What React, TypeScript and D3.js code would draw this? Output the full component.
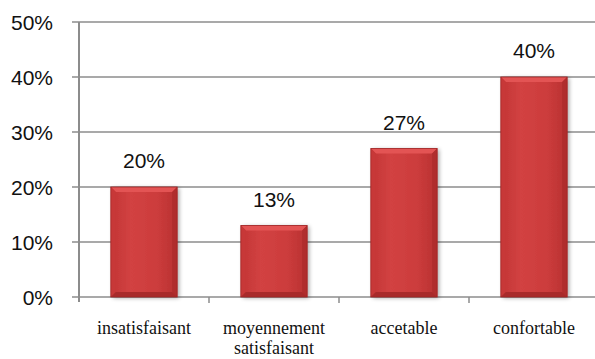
import React from "react";
import * as d3 from "d3";

const categories: string[][] = [
  ["insatisfaisant"],
  ["moyennement", "satisfaisant"],
  ["accetable"],
  ["confortable"],
];
const values: number[] = [0.2, 0.13, 0.27, 0.4];
const valueLabels: string[] = ["20%", "13%", "27%", "40%"];
const yTicks: number[] = [0, 0.1, 0.2, 0.3, 0.4, 0.5];

const W = 595;
const H = 359;
const left = 79;
const right = 599;
const top = 22;
const bottom = 297;

export default function App() {
  const keys = categories.map((c) => c.join(" "));
  const x = d3
    .scaleBand<string>()
    .domain(keys)
    .range([left, right])
    .paddingInner(0.49)
    .paddingOuter(0.245);
  const y = d3.scaleLinear().domain([0, 0.5]).range([bottom, top]);
  const step = x.step();
  const bw = x.bandwidth();
  const fmt = d3.format(".0%");
  const grid = "#8c8c8c";
  const bev = 5;
  const sans = "'Liberation Sans', Arial, sans-serif";

  return (
    <svg
      width={W}
      height={H}
      style={{ position: "absolute", left: 0, top: 0, background: "#fff" }}
    >
      <defs>
        <linearGradient id="barG" x1="0" x2="1" y1="0" y2="0">
          <stop offset="0" stopColor="#c23434" />
          <stop offset="0.3" stopColor="#d24242" />
          <stop offset="0.7" stopColor="#cc3c3c" />
          <stop offset="1" stopColor="#b83131" />
        </linearGradient>
        <filter id="sh" x="-20%" y="-10%" width="140%" height="120%">
          <feGaussianBlur in="SourceAlpha" stdDeviation="2" />
          <feOffset dx="2" dy="1" result="b" />
          <feComponentTransfer>
            <feFuncA type="linear" slope="0.35" />
          </feComponentTransfer>
          <feMerge>
            <feMergeNode />
            <feMergeNode in="SourceGraphic" />
          </feMerge>
        </filter>
      </defs>

      {yTicks.map((t) => (
        <line
          key={t}
          x1={left - 7}
          x2={W}
          y1={y(t)}
          y2={y(t)}
          stroke={grid}
          strokeWidth={1.5}
        />
      ))}
      <line x1={left} x2={left} y1={top} y2={bottom + 5} stroke={grid} strokeWidth={2} />
      {keys.slice(1).map((k) => {
        const bx = (x(k) as number) - (step - bw) / 2;
        return (
          <line key={k} x1={bx} x2={bx} y1={bottom} y2={bottom + 6} stroke={grid} strokeWidth={1.5} />
        );
      })}

      {yTicks.map((t) => (
        <text
          key={t}
          x={53}
          y={y(t)}
          dy="0.36em"
          textAnchor="end"
          fontFamily={sans}
          fontSize={21}
          fill="#111"
        >
          {fmt(t)}
        </text>
      ))}

      {values.map((v, i) => {
        const k = keys[i];
        const x0 = x(k) as number;
        const x1 = x0 + bw;
        const y0 = y(v);
        const y1 = y(0);
        return (
          <g key={k}>
            <g filter="url(#sh)">
              <rect x={x0} y={y0} width={bw} height={y1 - y0} fill="url(#barG)" />
            </g>
            <polygon
              points={`${x0},${y0} ${x1},${y0} ${x1 - bev},${y0 + bev} ${x0 + bev},${y0 + bev}`}
              fill="#e35454"
            />
            <polygon
              points={`${x0},${y0} ${x0 + bev},${y0 + bev} ${x0 + bev},${y1 - bev} ${x0},${y1}`}
              fill="#c73838"
            />
            <polygon
              points={`${x1},${y0} ${x1 - bev},${y0 + bev} ${x1 - bev},${y1 - bev} ${x1},${y1}`}
              fill="#b02d2d"
            />
            <polygon
              points={`${x0},${y1} ${x0 + bev},${y1 - bev} ${x1 - bev},${y1 - bev} ${x1},${y1}`}
              fill="#a82a2a"
            />
            <rect
              x={x0}
              y={y0}
              width={bw}
              height={y1 - y0}
              fill="none"
              stroke="#9e2424"
              strokeWidth={0.8}
            />
            <text
              x={x0 + bw / 2}
              y={y0 - 19}
              textAnchor="middle"
              fontFamily={sans}
              fontSize={21}
              fill="#111"
            >
              {valueLabels[i]}
            </text>
          </g>
        );
      })}

      {categories.map((lines, i) => {
        const k = keys[i];
        const cx = (x(k) as number) + bw / 2;
        return (
          <text
            key={k}
            x={cx}
            y={334}
            textAnchor="middle"
            fontFamily="'Liberation Serif', 'DejaVu Serif', serif"
            fontSize={18}
            fill="#111"
          >
            {lines.map((l, j) => (
              <tspan key={j} x={cx} dy={j === 0 ? 0 : 20}>
                {l}
              </tspan>
            ))}
          </text>
        );
      })}
    </svg>
  );
}
